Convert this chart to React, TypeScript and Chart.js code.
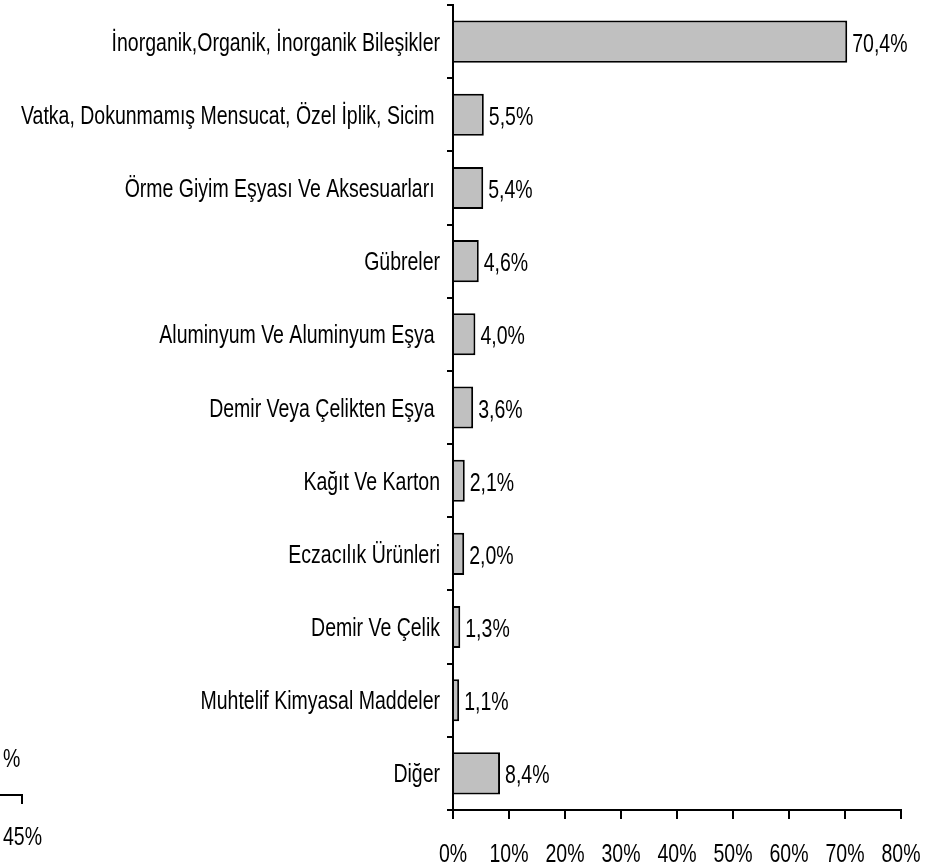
import React, { useEffect, useRef } from "react";
import { Chart, registerables } from "chart.js";

Chart.register(...registerables);

const categories: string[] = [
  "İnorganik,Organik, İnorganik Bileşikler",
  "Vatka, Dokunmamış Mensucat, Özel İplik, Sicim ",
  "Örme Giyim Eşyası Ve Aksesuarları ",
  "Gübreler",
  "Aluminyum Ve Aluminyum Eşya ",
  "Demir Veya Çelikten Eşya ",
  "Kağıt Ve Karton",
  "Eczacılık Ürünleri",
  "Demir Ve Çelik",
  "Muhtelif Kimyasal Maddeler",
  "Diğer",
];
const shares: number[] = [70.4, 5.5, 5.4, 4.6, 4.0, 3.6, 2.1, 2.0, 1.3, 1.1, 8.4];
const xTicks: number[] = [0, 10, 20, 30, 40, 50, 60, 70, 80];
const strayTexts: string[] = ["%", "45%"];

const FONT = '"Liberation Sans", Arimo, Arial, sans-serif';
const FONT_SIZE = 26;
const NARROW = 0.75;

const fmtValue = (v: number) => v.toFixed(1).replace(".", ",") + "%";
const fmtTick = (v: number) => v + "%";

function narrowText(ctx: CanvasRenderingContext2D, text: string, x: number, y: number, align: CanvasTextAlign) {
  ctx.save();
  ctx.translate(x, y);
  ctx.scale(NARROW, 1);
  ctx.font = `${FONT_SIZE}px ${FONT}`;
  ctx.fillStyle = "#000";
  ctx.textAlign = align;
  ctx.textBaseline = "alphabetic";
  ctx.fillText(text, 0, 0);
  ctx.restore();
}

const textPlugin = {
  id: "narrowTexts",
  afterDraw(chart: any) {
    const ctx: CanvasRenderingContext2D = chart.ctx;
    const xs = chart.scales.x;
    const ys = chart.scales.y;
    categories.forEach((c, i) => {
      const y = ys.getPixelForValue(i);
      narrowText(ctx, c, 440, y + 9, "right");
    });
    xs.ticks.forEach((t: any) => {
      const x = xs.getPixelForValue(t.value);
      narrowText(ctx, fmtTick(t.value), x, 862, "center");
    });
    const meta = chart.getDatasetMeta(0);
    meta.data.forEach((bar: any, i: number) => {
      narrowText(ctx, fmtValue(shares[i]), bar.x + 5, bar.y + 10, "left");
    });
    narrowText(ctx, strayTexts[0], 3, 767, "left");
    narrowText(ctx, strayTexts[1], 3, 845, "left");
    ctx.save();
    ctx.strokeStyle = "#000";
    ctx.lineWidth = 2;
    ctx.beginPath();
    ctx.moveTo(0, 795);
    ctx.lineTo(22, 795);
    ctx.lineTo(22, 804);
    ctx.stroke();
    ctx.restore();
  },
};

export default function App() {
  const ref = useRef<HTMLCanvasElement>(null);
  useEffect(() => {
    document.body.style.margin = "0";
    const chart = new Chart(ref.current!, {
      type: "bar",
      data: {
        labels: categories,
        datasets: [
          {
            data: shares,
            backgroundColor: "#c0c0c0",
            borderColor: "#000",
            borderWidth: 2,
            barPercentage: 0.575,
            categoryPercentage: 1,
          },
        ],
      },
      options: {
        indexAxis: "y",
        responsive: false,
        animation: false,
        layout: { padding: { top: 5, right: 38, left: 0, bottom: 0 } },
        plugins: { legend: { display: false }, tooltip: { enabled: false } },
        scales: {
          x: {
            min: 0,
            max: 80,
            afterBuildTicks: (s: any) => {
              s.ticks = xTicks.map((v) => ({ value: v }));
            },
            afterFit: (s: any) => {
              s.height = 57;
              s.paddingLeft = 0;
              s.paddingRight = 0;
            },
            ticks: { display: false, callback: (v: any) => fmtTick(v) },
            grid: { drawOnChartArea: false, drawTicks: true, tickLength: 9, color: "#000", lineWidth: 2 },
            border: { display: true, color: "#000", width: 2 },
          },
          y: {
            afterFit: (s: any) => {
              s.width = 453;
              s.paddingTop = 0;
              s.paddingBottom = 0;
            },
            ticks: { display: false, autoSkip: false },
            grid: { drawOnChartArea: false, drawTicks: true, tickLength: 6, color: "#000", lineWidth: 2, offset: true },
            border: { display: true, color: "#000", width: 2 },
          },
        },
      },
      plugins: [textPlugin],
    });
    return () => chart.destroy();
  }, []);
  return <canvas ref={ref} width={939} height={867} style={{ display: "block" }} />;
}
